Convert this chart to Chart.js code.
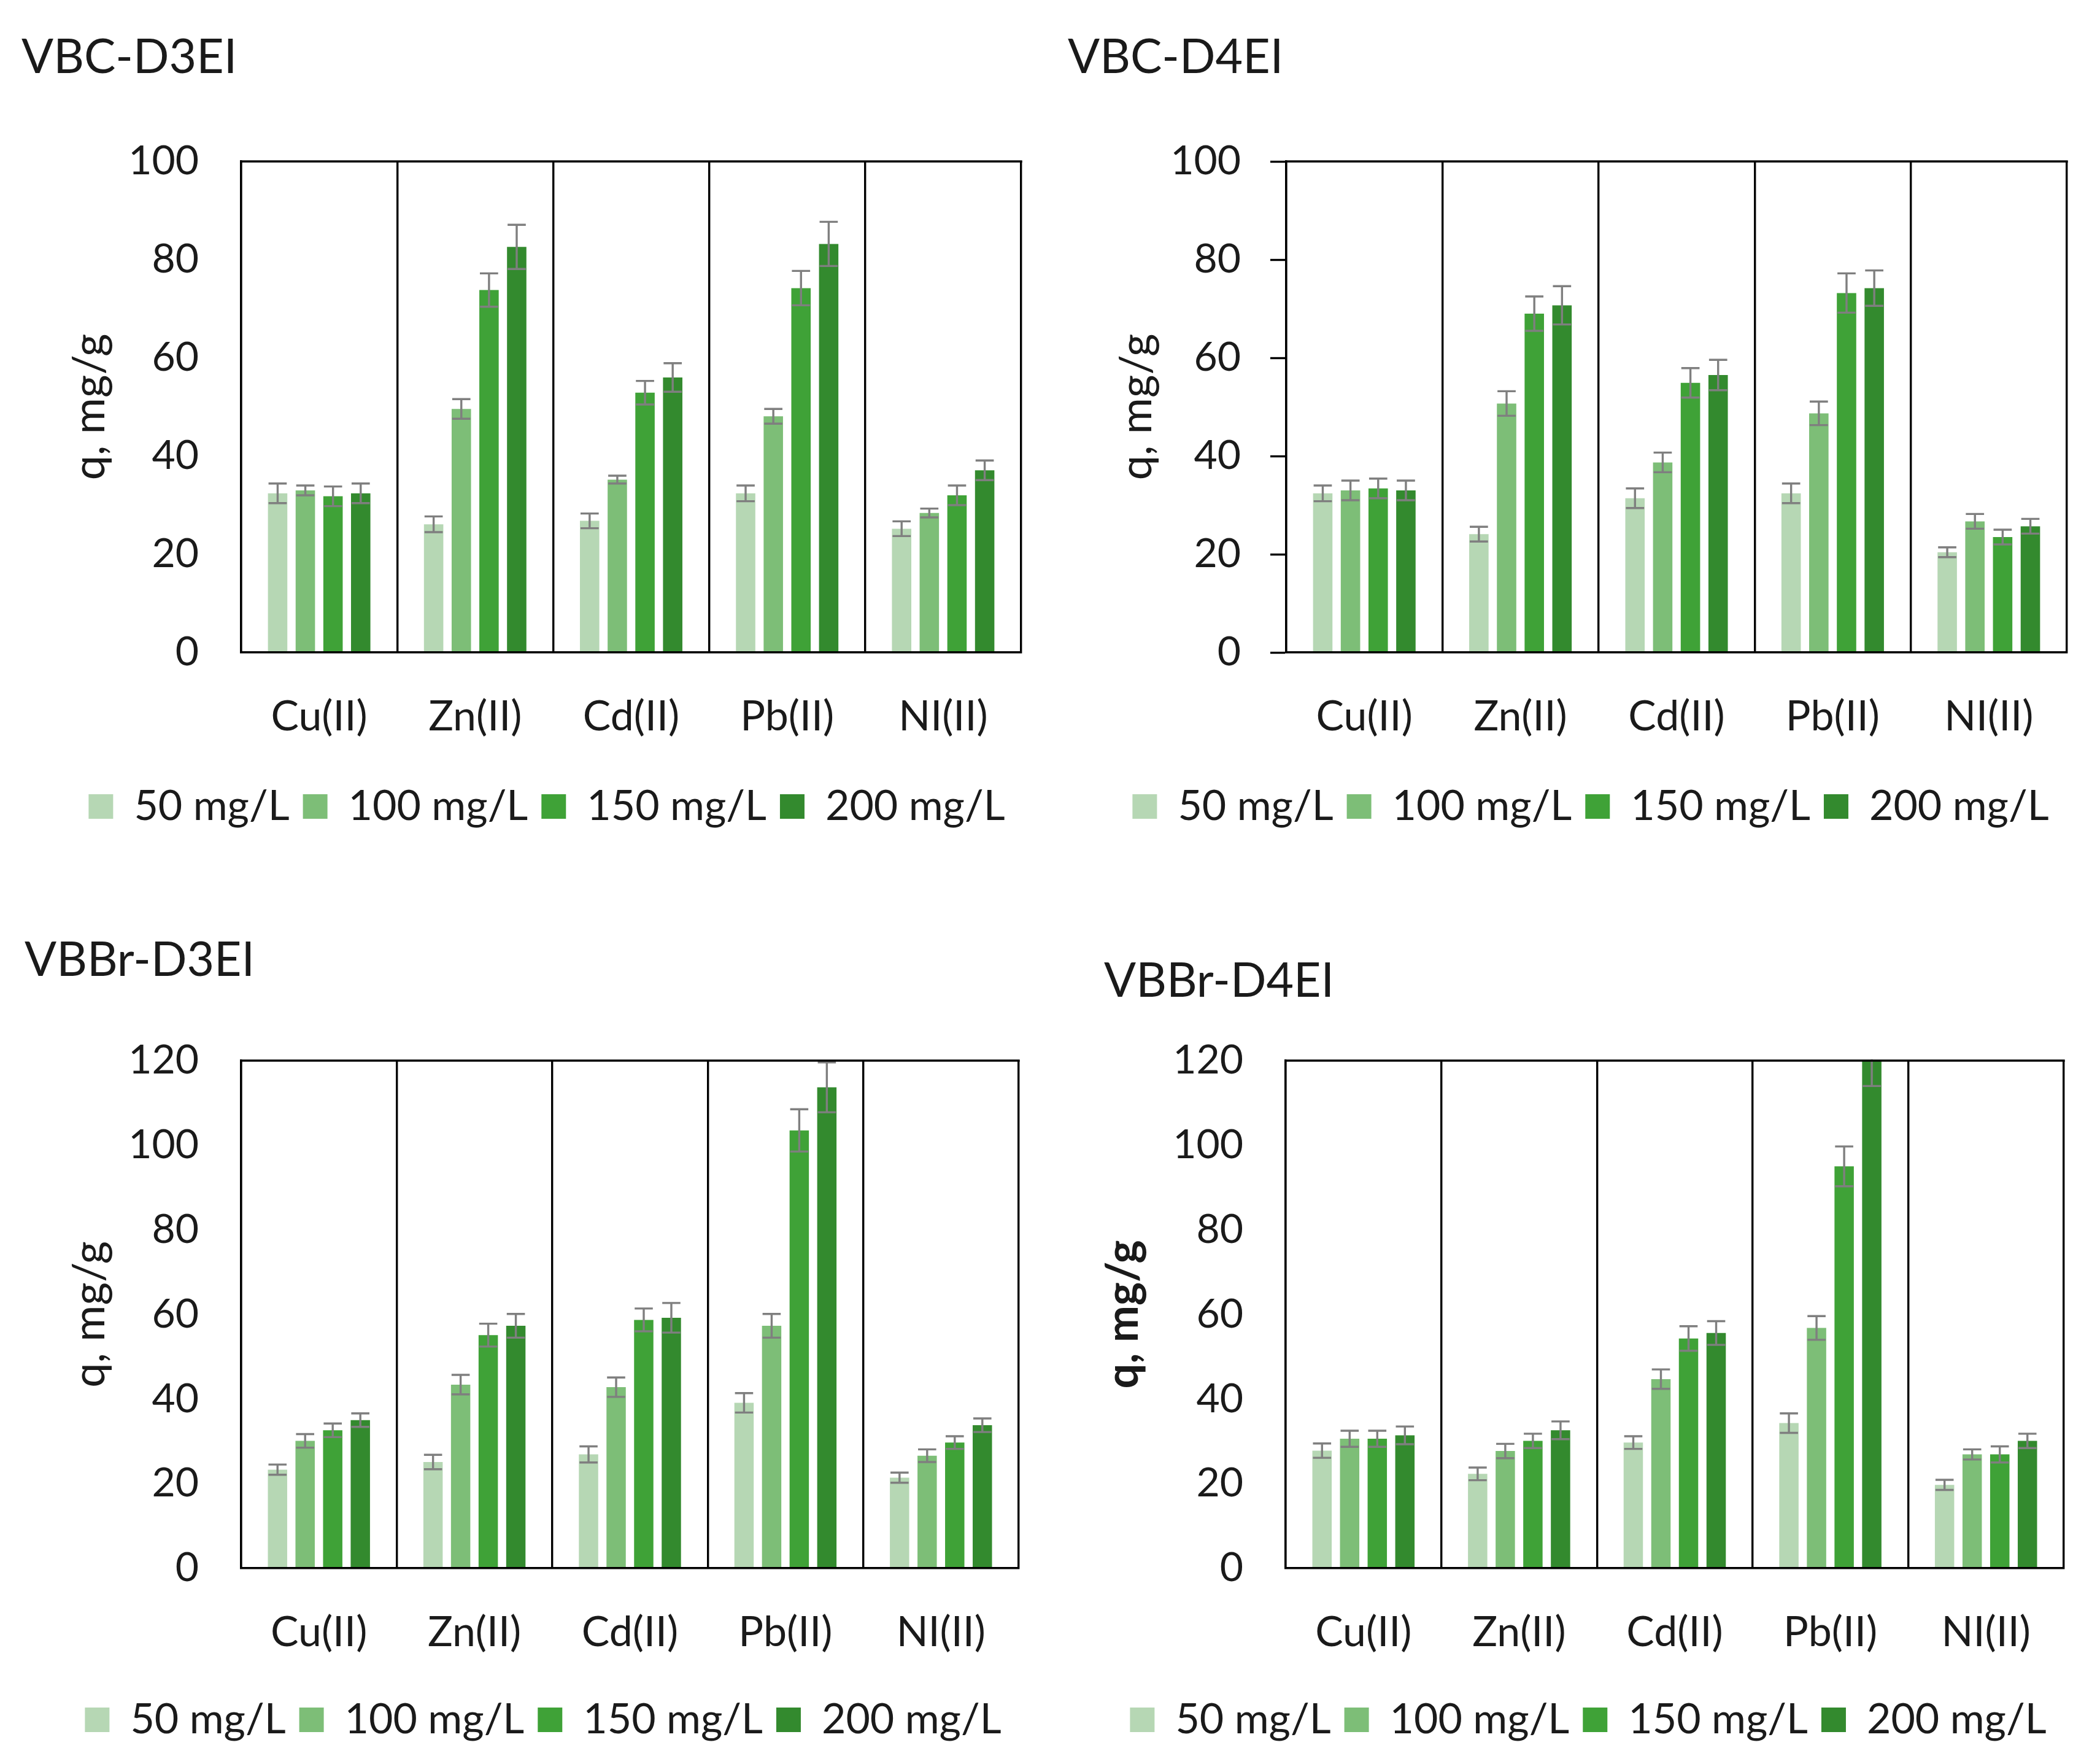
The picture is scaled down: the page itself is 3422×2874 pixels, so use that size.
<!DOCTYPE html>
<html>
<head>
<meta charset="utf-8">
<script src="https://cdn.jsdelivr.net/npm/chart.js@4.4.1/dist/chart.umd.min.js"></script>
<style>
html, body { margin: 0; padding: 0; background: #fff; }
#page { position: relative; width: 3422px; height: 2874px; overflow: hidden; }
.panel { position: absolute; width: 1711px; height: 1437px; }
.panel canvas { position: absolute; left: 0; top: 0; }
.title { position: absolute; font-family: Lato, sans-serif; font-size: 77px; line-height: 1; color: #1a1a1a; white-space: nowrap; }
</style>
</head>
<body>
<div id="page"></div>
<script>
// categories and series
const metals = ['Cu(II)', 'Zn(II)', 'Cd(II)', 'Pb(II)', 'NI(II)'];
const concentrations = ['50 mg/L', '100 mg/L', '150 mg/L', '200 mg/L'];
const seriesColors = ['#B6D7B4', '#7DBE77', '#3FA237', '#338A2E'];

// VBC-D3EI, q in mg/g
const vbcD3ei50 = [32.4, 26.1, 26.8, 32.4, 25.2];
const vbcD3ei100 = [33.0, 49.6, 35.2, 48.1, 28.4];
const vbcD3ei150 = [31.8, 73.8, 52.9, 74.2, 32.0];
const vbcD3ei200 = [32.4, 82.6, 56.0, 83.2, 37.1];
const vbcD3eiErr50 = [2.0, 1.6, 1.5, 1.6, 1.5];
const vbcD3eiErr100 = [1.0, 2.0, 0.8, 1.5, 0.9];
const vbcD3eiErr150 = [2.0, 3.4, 2.4, 3.5, 2.0];
const vbcD3eiErr200 = [2.0, 4.5, 2.9, 4.5, 2.0];

// VBC-D4EI
const vbcD4ei50 = [32.4, 24.1, 31.4, 32.4, 20.4];
const vbcD4ei100 = [33.0, 50.7, 38.7, 48.7, 26.7];
const vbcD4ei150 = [33.4, 69.0, 54.9, 73.2, 23.5];
const vbcD4ei200 = [33.0, 70.7, 56.5, 74.2, 25.7];
const vbcD4eiErr50 = [1.6, 1.5, 2.0, 2.0, 1.0];
const vbcD4eiErr100 = [2.0, 2.5, 2.0, 2.4, 1.5];
const vbcD4eiErr150 = [2.0, 3.5, 3.0, 4.0, 1.5];
const vbcD4eiErr200 = [2.0, 3.9, 3.1, 3.6, 1.5];

// VBBr-D3EI
const vbbrD3ei50 = [23.3, 25.1, 26.9, 39.1, 21.4];
const vbbrD3ei100 = [30.1, 43.4, 42.8, 57.3, 26.6];
const vbbrD3ei150 = [32.6, 55.1, 58.7, 103.5, 29.7];
const vbbrD3ei200 = [35.0, 57.3, 59.2, 113.7, 33.8];
const vbbrD3eiErr50 = [1.2, 1.7, 1.9, 2.3, 1.2];
const vbbrD3eiErr100 = [1.6, 2.3, 2.3, 2.8, 1.5];
const vbbrD3eiErr150 = [1.6, 2.7, 2.7, 5.0, 1.5];
const vbbrD3eiErr200 = [1.6, 2.8, 3.5, 5.9, 1.6];

// VBBr-D4EI
const vbbrD4ei50 = [27.8, 22.3, 29.7, 34.3, 19.7];
const vbbrD4ei100 = [30.6, 27.7, 44.7, 56.8, 26.9];
const vbbrD4ei150 = [30.6, 30.1, 54.3, 95.0, 26.9];
const vbbrD4ei200 = [31.4, 32.6, 55.6, 120.0, 30.1];
const vbbrD4eiErr50 = [1.7, 1.5, 1.5, 2.3, 1.2];
const vbbrD4eiErr100 = [1.9, 1.7, 2.3, 2.8, 1.2];
const vbbrD4eiErr150 = [1.9, 1.7, 2.9, 4.7, 1.9];
const vbbrD4eiErr200 = [2.1, 2.1, 2.8, 6.0, 1.7];

const yTicks100 = [0, 20, 40, 60, 80, 100];
const yTicks120 = [0, 20, 40, 60, 80, 100, 120];

// panel placement (pixels inside each 1711x1437 panel)
const W = 1711, H = 1437;
const panels = [
  { name: 'VBC-D3EI', left: 0, top: 0, titleX: 35, titleY: 92,
    values: [vbcD3ei50, vbcD3ei100, vbcD3ei150, vbcD3ei200],
    errors: [vbcD3eiErr50, vbcD3eiErr100, vbcD3eiErr150, vbcD3eiErr200],
    ticks: yTicks100, area: { l: 393, r: 1664, t: 263, b: 1063 },
    xLabelY: 1168, legendY: 1314, legendCX: 891, yTitleX: 147, tickMarks: false, boldTitle: false },
  { name: 'VBC-D4EI', left: 1711, top: 0, titleX: 29, titleY: 92,
    values: [vbcD4ei50, vbcD4ei100, vbcD4ei150, vbcD4ei200],
    errors: [vbcD4eiErr50, vbcD4eiErr100, vbcD4eiErr150, vbcD4eiErr200],
    ticks: yTicks100, area: { l: 385, r: 1657, t: 263, b: 1063 },
    xLabelY: 1168, legendY: 1314, legendCX: 881, yTitleX: 142, tickMarks: true, boldTitle: false },
  { name: 'VBBr-D3EI', left: 0, top: 1437, titleX: 40, titleY: 126,
    values: [vbbrD3ei50, vbbrD3ei100, vbbrD3ei150, vbbrD3ei200],
    errors: [vbbrD3eiErr50, vbbrD3eiErr100, vbbrD3eiErr150, vbbrD3eiErr200],
    ticks: yTicks120, area: { l: 393, r: 1660, t: 291, b: 1118 },
    xLabelY: 1223, legendY: 1365, legendCX: 885, yTitleX: 147, tickMarks: false, boldTitle: false },
  { name: 'VBBr-D4EI', left: 1711, top: 1437, titleX: 88, titleY: 160,
    values: [vbbrD4ei50, vbbrD4ei100, vbbrD4ei150, vbbrD4ei200],
    errors: [vbbrD4eiErr50, vbbrD4eiErr100, vbbrD4eiErr150, vbbrD4eiErr200],
    ticks: yTicks120, area: { l: 384, r: 1652, t: 291, b: 1118 },
    xLabelY: 1223, legendY: 1365, legendCX: 877, yTitleX: 120, tickMarks: false, boldTitle: true }
];

const TICK_FONT = 66, X_FONT = 68, LEG_FONT = 68, LEG_PAD = 22, Y_TITLE_FONT = 72;
const INK = '#1a1a1a';
const LINE_W = 3.4;

Chart.defaults.font.family = 'Lato, sans-serif';
Chart.defaults.color = INK;

// gray error bars with caps, clipped to the plot area
const errorBars = {
  id: 'errorBars',
  afterDatasetsDraw(chart) {
    const { ctx, chartArea } = chart;
    const y = chart.scales.y;
    ctx.save();
    ctx.beginPath();
    ctx.rect(chartArea.left, chartArea.top - 2, chartArea.width, chartArea.height + 2);
    ctx.clip();
    ctx.strokeStyle = '#7f7f7f';
    ctx.lineWidth = 3.4;
    chart.data.datasets.forEach((ds, i) => {
      chart.getDatasetMeta(i).data.forEach((bar, j) => {
        const v = ds.data[j], e = ds.errors[j];
        const top = y.getPixelForValue(v + e);
        const bot = y.getPixelForValue(v - e);
        const half = bar.width * 0.47;
        ctx.beginPath();
        ctx.moveTo(bar.x, top); ctx.lineTo(bar.x, bot);
        ctx.moveTo(bar.x - half, top); ctx.lineTo(bar.x + half, top);
        ctx.moveTo(bar.x - half, bot); ctx.lineTo(bar.x + half, bot);
        ctx.stroke();
      });
    });
    ctx.restore();
  }
};

// top edge of the plot box
const frameTop = {
  id: 'frameTop',
  afterDatasetsDraw(chart) {
    const { ctx, chartArea } = chart;
    ctx.save();
    ctx.strokeStyle = '#000';
    ctx.lineWidth = LINE_W;
    ctx.beginPath();
    ctx.moveTo(chartArea.left - LINE_W / 2, chartArea.top);
    ctx.lineTo(chartArea.right + LINE_W / 2, chartArea.top);
    ctx.stroke();
    ctx.restore();
  }
};

const page = document.getElementById('page');

panels.forEach(p => {
  const div = document.createElement('div');
  div.className = 'panel';
  div.style.left = p.left + 'px';
  div.style.top = p.top + 'px';
  page.appendChild(div);

  const t = document.createElement('div');
  t.className = 'title';
  t.textContent = p.name;
  t.style.left = p.titleX + 'px';
  t.style.top = (p.titleY - 41) + 'px';
  div.appendChild(t);

  const canvas = document.createElement('canvas');
  canvas.width = W;
  canvas.height = H;
  div.appendChild(canvas);

  const padL = 2 * p.legendCX - p.area.r;
  const padR = W - p.area.r;
  const padB = H - p.legendY - (10 + LEG_FONT / 2);
  const legH = LEG_FONT + LEG_PAD + 10;
  const xH = H - padB - legH - p.area.b;
  const yW = p.area.l - padL;
  const xTickPad = p.xLabelY - p.area.b - X_FONT * 1.2 / 2;
  const yTitlePad = p.yTitleX - padL - Y_TITLE_FONT * 1.2 / 2;
  const yMax = p.ticks[p.ticks.length - 1];

  new Chart(canvas, {
    type: 'bar',
    data: {
      labels: metals,
      datasets: concentrations.map((c, i) => ({
        label: c,
        data: p.values[i],
        errors: p.errors[i],
        backgroundColor: seriesColors[i],
        borderWidth: 0,
        categoryPercentage: 0.71,
        barPercentage: 0.7
      }))
    },
    options: {
      responsive: false,
      devicePixelRatio: 1,
      animation: false,
      events: [],
      layout: { padding: { left: padL, right: padR, top: p.area.t, bottom: padB } },
      scales: {
        x: {
          grid: { offset: true, color: '#000', lineWidth: LINE_W, drawTicks: false },
          border: { color: '#000', width: LINE_W, z: 1 },
          ticks: { padding: xTickPad, font: { size: X_FONT }, color: INK, maxRotation: 0 },
          afterFit(scale) { scale.height = xH; }
        },
        y: {
          min: 0,
          max: yMax,
          afterBuildTicks(scale) { scale.ticks = p.ticks.map(v => ({ value: v })); },
          grid: p.tickMarks
            ? { display: true, drawOnChartArea: false, drawTicks: true, tickLength: 26, tickColor: '#000', tickWidth: LINE_W }
            : { display: false, drawTicks: false },
          border: { color: '#000', width: LINE_W },
          ticks: { padding: p.tickMarks ? 48 : 69, font: { size: TICK_FONT }, color: INK },
          title: {
            display: true,
            text: 'q, mg/g',
            color: INK,
            font: { size: Y_TITLE_FONT, weight: p.boldTitle ? 'bold' : 'normal' },
            padding: { top: yTitlePad, bottom: 0 }
          },
          afterFit(scale) { scale.width = yW; }
        }
      },
      plugins: {
        legend: {
          position: 'bottom',
          labels: { boxWidth: 40, boxHeight: 40, padding: LEG_PAD, font: { size: LEG_FONT }, color: INK }
        },
        tooltip: { enabled: false }
      }
    },
    plugins: [errorBars, frameTop]
  });
});
</script>
</body>
</html>
